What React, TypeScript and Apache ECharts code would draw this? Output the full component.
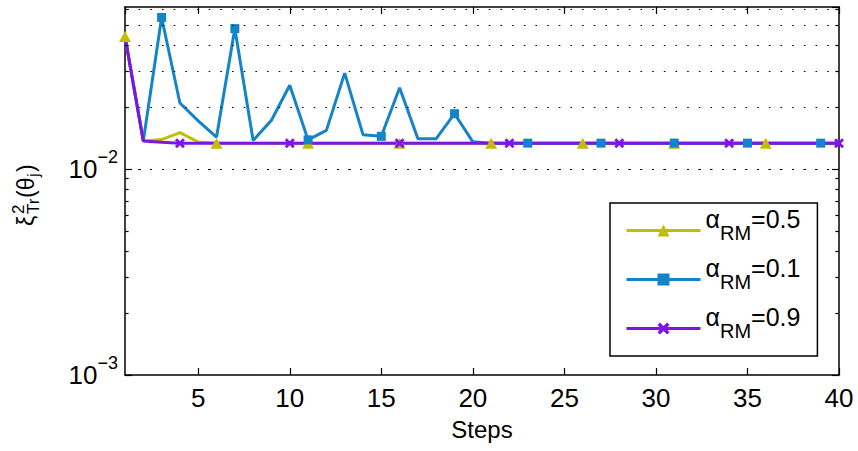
import React, { useEffect, useRef } from 'react';
import * as echarts from 'echarts';

const steps = [1, 2, 3, 4, 5, 6, 7, 8, 9, 10, 11, 12, 13, 14, 15, 16, 17, 18, 19, 20,
  21, 22, 23, 24, 25, 26, 27, 28, 29, 30, 31, 32, 33, 34, 35, 36, 37, 38, 39, 40];

// alpha_RM = 0.5
const alpha05 = [0.0442, 0.01372, 0.01394, 0.01507, 0.01357, 0.0134, 0.0134, 0.0134, 0.0134, 0.0134,
  0.0134, 0.0134, 0.0134, 0.0134, 0.0134, 0.0134, 0.0134, 0.0134, 0.0134, 0.0134,
  0.0134, 0.0134, 0.0134, 0.0134, 0.0134, 0.0134, 0.0134, 0.0134, 0.0134, 0.0134,
  0.0134, 0.0134, 0.0134, 0.0134, 0.0134, 0.0134, 0.0134, 0.0134, 0.0134, 0.0134];

// alpha_RM = 0.1
const alpha01 = [0.0442, 0.01372, 0.0547, 0.021, 0.0172, 0.01435, 0.0483, 0.0138, 0.0173, 0.0256,
  0.0139, 0.01546, 0.02934, 0.01473, 0.01446, 0.02493, 0.01409, 0.01409, 0.01863, 0.0136,
  0.0134, 0.0134, 0.0134, 0.0134, 0.0134, 0.0134, 0.0134, 0.0134, 0.0134, 0.0134,
  0.0134, 0.0134, 0.0134, 0.0134, 0.0134, 0.0134, 0.0134, 0.0134, 0.0134, 0.0134];

// alpha_RM = 0.9
const alpha09 = [0.0442, 0.01372, 0.01352, 0.0134, 0.0134, 0.0134, 0.0134, 0.0134, 0.0134, 0.0134,
  0.0134, 0.0134, 0.0134, 0.0134, 0.0134, 0.0134, 0.0134, 0.0134, 0.0134, 0.0134,
  0.0134, 0.0134, 0.0134, 0.0134, 0.0134, 0.0134, 0.0134, 0.0134, 0.0134, 0.0134,
  0.0134, 0.0134, 0.0134, 0.0134, 0.0134, 0.0134, 0.0134, 0.0134, 0.0134, 0.0134];

const seriesNames = ['αRM=0.5', 'αRM=0.1', 'αRM=0.9'];
const gridValues = [0.002, 0.003, 0.004, 0.005, 0.006, 0.007, 0.008, 0.009, 0.01,
  0.02, 0.03, 0.04, 0.05, 0.06];
const minorTickValues = [0.002, 0.003, 0.004, 0.005, 0.006, 0.007, 0.008, 0.009,
  0.02, 0.03, 0.04, 0.05, 0.06];
const xMin = 1;
const xMax = 40;
const yMin = 0.001;
const yMax = 0.0615;

const FONT = '"Liberation Sans", Arial, Helvetica, sans-serif';

export default function App() {
  const ref = useRef<HTMLDivElement>(null);

  useEffect(() => {
    if (!ref.current) return;
    const chart = echarts.init(ref.current, undefined, { renderer: 'svg' });

    const build = (vals: number[], every: number, start: number) =>
      steps.map((s, i) => {
        const show = i >= start && (i - start) % every === 0;
        return show ? { value: [s, vals[i]] } : { value: [s, vals[i]], symbol: 'none' };
      });

    const crossPath = 'path://M0,2 L2,0 L5,3 L8,0 L10,2 L7,5 L10,8 L8,10 L5,7 L2,10 L0,8 L3,5 Z';

    const dotStyle = { color: '#000', width: 1, type: [1.6, 10.07] as any, dashOffset: -2.5 };
    const minorLen = 3.6 / 18.31;

    const markLineData: any[] = [];
    gridValues.forEach((v) => markLineData.push({ yAxis: v, lineStyle: dotStyle }));
    minorTickValues.forEach((v) => {
      markLineData.push([
        { coord: [xMin, v], lineStyle: { color: '#000', width: 1.2, type: 'solid' } },
        { coord: [xMin + minorLen, v] },
      ]);
      markLineData.push([
        { coord: [xMax - minorLen, v], lineStyle: { color: '#000', width: 1.2, type: 'solid' } },
        { coord: [xMax, v] },
      ]);
    });

    const axisLineStyle = { color: '#000', width: 1.5 };
    const tStyle = (size: number) => ({
      fontSize: size, fontFamily: FONT, fill: '#000',
      textVerticalAlign: 'middle', verticalAlign: 'middle', textAlign: 'left', align: 'left',
    });

    const option: any = {
      animation: false,
      backgroundColor: '#fff',
      grid: { left: 125, right: 19, top: 7, bottom: 76, containLabel: false, outerBoundsMode: 'none' },
      xAxis: [
        {
          type: 'value', min: xMin, max: xMax, splitNumber: 8, position: 'bottom',
          name: 'Steps', nameLocation: 'middle', nameGap: 42,
          nameTextStyle: { fontSize: 24, fontFamily: FONT, color: '#000' },
          axisLine: { show: true, onZero: false, lineStyle: axisLineStyle },
          axisTick: { show: true, inside: true, length: 7, lineStyle: { color: '#000', width: 1.2 } },
          axisLabel: { show: true, showMinLabel: false, margin: 10, fontSize: 26, fontFamily: FONT, color: '#000' },
          splitLine: { show: false },
        },
        {
          type: 'value', min: xMin, max: xMax, splitNumber: 8, position: 'top',
          axisLine: { show: true, onZero: false, lineStyle: axisLineStyle },
          axisTick: { show: true, inside: true, length: 7, lineStyle: { color: '#000', width: 1.2 } },
          axisLabel: { show: false },
          splitLine: { show: false },
        },
      ],
      yAxis: [
        {
          type: 'log', logBase: 10, min: yMin, max: yMax, position: 'left',
          axisLine: { show: true, onZero: false, lineStyle: axisLineStyle },
          axisTick: { show: true, inside: true, length: 7, lineStyle: { color: '#000', width: 1.2 } },
          axisLabel: {
            show: true, showMaxLabel: false, margin: 7,
            formatter: (v: number) => {
              const e = Math.round(Math.log10(v));
              return `{b|10}{s|${e < 0 ? '−' : ''}${Math.abs(e)}}`;
            },
            rich: {
              b: { fontSize: 26, fontFamily: FONT, color: '#000' },
              s: { fontSize: 18, fontFamily: FONT, color: '#000', padding: [0, 0, 25, 0] },
            },
          },
          splitLine: { show: false },
        },
        {
          type: 'log', logBase: 10, min: yMin, max: yMax, position: 'right',
          axisLine: { show: true, onZero: false, lineStyle: axisLineStyle },
          axisTick: { show: true, inside: true, length: 7, lineStyle: { color: '#000', width: 1.2 } },
          axisLabel: { show: false },
          splitLine: { show: false },
        },
      ],
      legend: {
        orient: 'vertical', left: 610, top: 203,
        padding: [3, 17, 3, 15],
        itemWidth: 74, itemHeight: 15, itemGap: 0,
        borderColor: '#000', borderWidth: 1.5, backgroundColor: '#fff', borderRadius: 0,
        selectedMode: false,
        lineStyle: { width: 3 },
        data: seriesNames,
        formatter: (name: string) => `{a|α}{s|RM}{a|=${name.split('=')[1]}}`,
        textStyle: {
          color: '#000', fontFamily: FONT,
          rich: {
            a: { fontSize: 25, lineHeight: 25, fontFamily: FONT, color: '#000', padding: [0, 0, 24, 0] },
            s: { fontSize: 20, lineHeight: 20, fontFamily: FONT, color: '#000', padding: [5, 0, 0, 0] },
          },
        },
      },
      graphic: [
        {
          type: 'group', x: 26, y: 226, rotation: Math.PI / 2, silent: true,
          children: [
            { type: 'text', x: 0, y: 0, style: { text: 'ξ', ...tStyle(23) } },
            { type: 'text', x: 12, y: -8, style: { text: '2', ...tStyle(17) } },
            { type: 'text', x: 12, y: 7, style: { text: 'Tr', ...tStyle(17) } },
            { type: 'text', x: 28, y: 0, style: { text: '(θ', ...tStyle(23) } },
            { type: 'text', x: 49, y: 7, style: { text: 'j', ...tStyle(17) } },
            { type: 'text', x: 54, y: 0, style: { text: ')', ...tStyle(23) } },
          ],
        },
      ],
      series: [
        {
          name: seriesNames[0], type: 'line', xAxisIndex: 0, yAxisIndex: 0,
          data: build(alpha05, 5, 0),
          symbol: 'triangle', symbolSize: [12, 11],
          lineStyle: { color: '#bfbf00', width: 3 },
          itemStyle: { color: '#bfbf00' },
          markLine: {
            silent: true, symbol: 'none', label: { show: false },
            emphasis: { disabled: true },
            data: markLineData,
          },
        },
        {
          name: seriesNames[1], type: 'line', xAxisIndex: 0, yAxisIndex: 0,
          data: build(alpha01, 4, 2),
          symbol: 'rect', symbolSize: 9,
          lineStyle: { color: '#1384c8', width: 3 },
          itemStyle: { color: '#1384c8' },
        },
        {
          name: seriesNames[2], type: 'line', xAxisIndex: 0, yAxisIndex: 0,
          data: build(alpha09, 6, 3),
          symbol: crossPath, symbolSize: 10,
          lineStyle: { color: '#7f14e4', width: 3 },
          itemStyle: { color: '#7f14e4' },
        },
      ],
    };

    chart.setOption(option);
    return () => chart.dispose();
  }, []);

  return <div ref={ref} style={{ width: 858, height: 451, position: 'absolute', left: 0, top: 0 }} />;
}
